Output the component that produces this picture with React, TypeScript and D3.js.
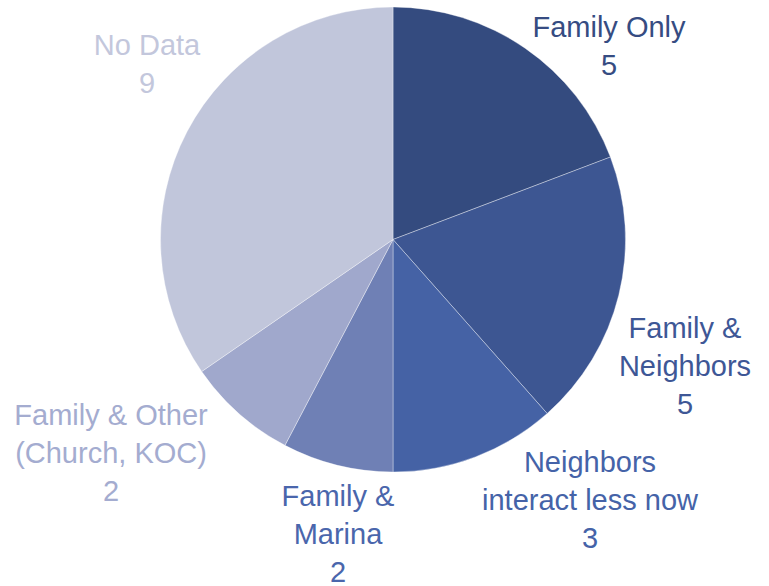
import * as d3 from 'd3'

const categories = [
  'Family Only',
  'Family & Neighbors',
  'Neighbors interact less now',
  'Family & Marina',
  'Family & Other (Church, KOC)',
  'No Data',
]
const values = [5, 5, 3, 2, 2, 9]
// label text broken into lines as in the chart
const labelLines = [
  ['Family Only'],
  ['Family &', 'Neighbors'],
  ['Neighbors', 'interact less now'],
  ['Family &', 'Marina'],
  ['Family & Other', '(Church, KOC)'],
  ['No Data'],
]
const sliceColors = ['#344b7f', '#3d5692', '#4562a5', '#6f80b5', '#a0a8cc', '#c1c6db']
const textColors = ['#364c82', '#3e5796', '#4563a8', '#4a66ac', '#a4acd0', '#c3c7dc']

// label anchor (center, first baseline) relative to pie center
const labelOffsets: [number, number][] = [
  [216, -203],
  [292, 98],
  [197, 232],
  [-55, 266],
  [-282, 185],
  [-246, -185],
]

const W = 769
const H = 586
const cx = 393
const cy = 239.5
const R = 232.5
const fontSize = 29
const lineH = 38

export default function App() {
  const pie = d3
    .pie<number>()
    .sort(null)
    .value((d: number) => d)
  const arcs = pie(values)
  const arcGen = d3.arc<d3.PieArcDatum<number>>().innerRadius(0).outerRadius(R)

  return (
    <svg
      width={W}
      height={H}
      style={{ position: 'absolute', left: 0, top: 0, background: '#fff' }}
      fontFamily="'Liberation Sans', Arial, sans-serif"
    >
      <g transform={`translate(${cx},${cy})`}>
        {arcs.map((a, i) => (
          <path
            key={categories[i]}
            d={arcGen(a) || undefined}
            fill={sliceColors[i]}
            stroke="#ffffff"
            strokeOpacity={0.45}
            strokeWidth={0.8}
          />
        ))}
        {labelLines.map((lines, i) => {
          const [dx, dy] = labelOffsets[i]
          const all = [...lines, String(values[i])]
          return (
            <text
              key={categories[i]}
              textAnchor="middle"
              fontSize={fontSize}
              fill={textColors[i]}
            >
              {all.map((t, j) => (
                <tspan key={j} x={dx} y={dy + j * lineH}>
                  {t}
                </tspan>
              ))}
            </text>
          )
        })}
      </g>
    </svg>
  )
}
